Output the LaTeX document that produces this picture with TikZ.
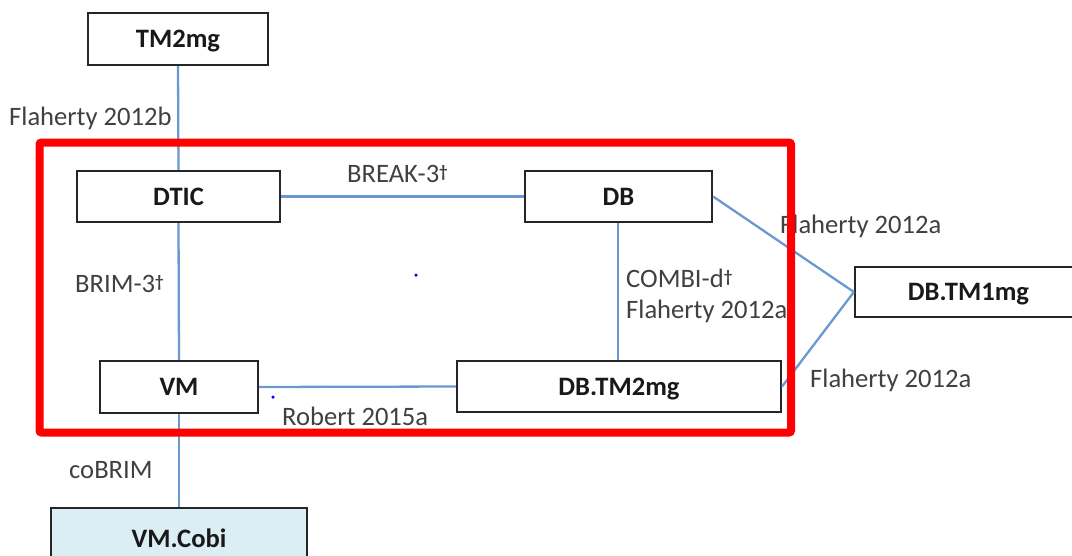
\documentclass[tikz,border=0pt]{standalone}
\usepackage{fontspec}
\setmainfont{Carlito}
\definecolor{linkblue}{HTML}{6A98D0}
\definecolor{labelgray}{HTML}{404040}
\definecolor{boxline}{HTML}{262626}
\definecolor{cobifill}{HTML}{DAEEF3}
% short raised dagger used after trial names
\newcommand{\trialdag}{\raisebox{5pt}{\fontsize{17}{17}\selectfont\bfseries †}}
\tikzset{
  x=1pt, y=-1pt,
  armbox/.style={draw=boxline, line width=2.2pt, fill=white, inner sep=0pt,
    font=\fontsize{26.6}{31}\selectfont\bfseries, text=black!90,
    text height=17pt, text depth=0pt, anchor=center},
  link/.style={draw=linkblue, line width=2.3pt},
  reflabel/.style={inner sep=0pt, anchor=base west, text=labelgray,
    font=\fontsize{26.6}{31}\selectfont},
  speck/.style={fill=blue, draw=none, circle, inner sep=0pt, minimum size=3.5pt}
}
\begin{document}
\begin{tikzpicture}
\useasboundingbox (0,0) rectangle (1072,555);
\clip (0,0) rectangle (1072,555);

% treatment boxes
\node[armbox, minimum width=180pt, minimum height=52pt] (tm2mg) at (178,39) {TM2mg};
\node[armbox, minimum width=203pt, minimum height=51pt] (dtic) at (178.5,196.5) {DTIC};
\node[armbox, minimum width=187pt, minimum height=51pt] (db) at (618.5,196.5) {DB};
\node[armbox, minimum width=227pt, minimum height=50pt] (dbtm1) at (968.5,292) {DB.TM1mg};
\node[armbox, minimum width=158pt, minimum height=52pt] (vm) at (179,387) {VM};
\node[armbox, minimum width=324pt, minimum height=51pt] (dbtm2) at (619,386.5) {DB.TM2mg};
\node[armbox, fill=cobifill, minimum width=256pt, minimum height=62pt] (vmcobi) at (179,539) {VM.Cobi};

% trial links
\draw[link] (tm2mg.south) -- (dtic.north);
\draw[link] (dtic.east) -- (db.west);
\draw[link] (dtic.south) -- (vm.north);
\draw[link] (db.south -| 618,0) -- (dbtm2.north -| 618,0);
\draw[link] (vm.east) -- (dbtm2.west);
\draw[link] (db.east) -- (dbtm1.west);
\draw[link] (dbtm2.east) -- (dbtm1.west);
\draw[link] (vm.south) -- (vmcobi.north);

% trial names
\node[reflabel] (l1) at (9,125) {Flaherty 2012b};
\node[reflabel] (l2) at (347,182) {BREAK-3\trialdag};
\node[reflabel] (l3) at (75,292) {BRIM-3\trialdag};
\node[reflabel] (l4) at (626,287) {COMBI-d\trialdag};
\node[reflabel] (l5) at (626,318) {Flaherty 2012a};
\node[reflabel] (l6) at (780,233) {Flaherty 2012a};
\node[reflabel] (l7) at (810,387) {Flaherty 2012a};
\node[reflabel] (l8) at (282,425) {Robert 2015a};
\node[reflabel] (l9) at (69,478) {coBRIM};

% stray marks
\node[speck] (s1) at (416,275) {};
\node[speck] (s2) at (273,397) {};

% highlighted region
\draw[red, line width=8pt, rounded corners=2pt] (39.5,142.5) rectangle (791,432.5);
\end{tikzpicture}
\end{document}
